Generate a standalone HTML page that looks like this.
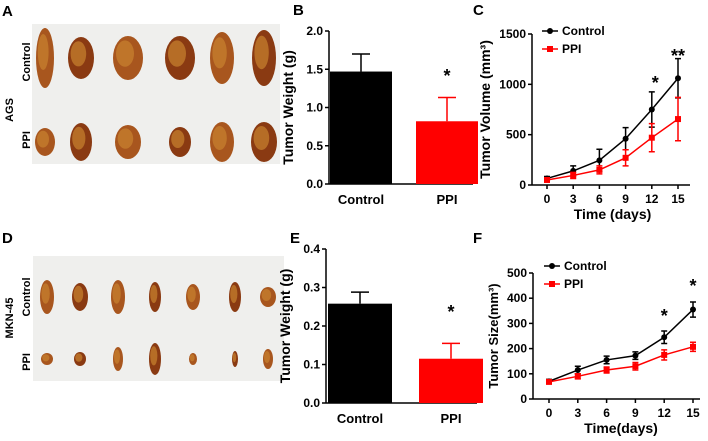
<!DOCTYPE html>
<html><head><meta charset="utf-8">
<style>
body{margin:0;background:#fff;}
svg{display:block;font-family:"Liberation Sans",Arial,sans-serif;font-weight:bold;}
</style></head>
<body>
<svg id="fig" width="708" height="441" viewBox="0 0 708 441">
  <g>
    <text x="2" y="16" font-size="15">A</text>
    <rect x="32" y="24" width="248" height="140" fill="#efefed"/>
    <text transform="translate(13,110) rotate(-90)" font-size="11" text-anchor="middle">AGS</text>
    <text transform="translate(30,62) rotate(-90)" font-size="11" text-anchor="middle">Control</text>
    <text transform="translate(30,140) rotate(-90)" font-size="11" text-anchor="middle">PPI</text>
    <g id="tumA"></g>
  </g>
  <g>
    <text x="2" y="243" font-size="15">D</text>
    <rect x="33" y="256" width="251" height="125" fill="#efefed"/>
    <text transform="translate(13,318) rotate(-90)" font-size="11" text-anchor="middle">MKN-45</text>
    <text transform="translate(30,297) rotate(-90)" font-size="11" text-anchor="middle">Control</text>
    <text transform="translate(30,362) rotate(-90)" font-size="11" text-anchor="middle">PPI</text>
    <g id="tumD"></g>
  </g>
  <g id="chartB"></g>
  <g id="chartE"></g>
  <g id="chartC"></g>
  <g id="chartF"></g>
</svg>
<script>
const barCategories = ["Control", "PPI"];
const bValues = [1.47, 0.82];
const bErrors = [0.23, 0.31];
const bTicks = ["0.0", "0.5", "1.0", "1.5", "2.0"];
const eValues = [0.258, 0.115];
const eErrors = [0.030, 0.040];
const eTicks = ["0.0", "0.1", "0.2", "0.3", "0.4"];
const days = [0, 3, 6, 9, 12, 15];
const cControl = [65, 140, 245, 460, 750, 1060];
const cControlErr = [20, 50, 110, 110, 175, 195];
const cPPI = [50, 95, 150, 270, 470, 655];
const cPPIErr = [15, 30, 40, 80, 140, 215];
const cTicks = ["0", "500", "1000", "1500"];
const fControl = [70, 115, 155, 172, 245, 355];
const fControlErr = [8, 15, 15, 15, 25, 30];
const fPPI = [68, 90, 115, 130, 175, 207];
const fPPIErr = [8, 10, 12, 15, 20, 18];
const fTicks = ["0", "100", "200", "300", "400", "500"];

const NS = "http://www.w3.org/2000/svg";
function mk(parent, tag, attrs, text) {
  const e = document.createElementNS(NS, tag);
  for (const k in attrs) e.setAttribute(k, attrs[k]);
  if (text !== undefined) e.textContent = text;
  parent.appendChild(e);
  return e;
}

function tumors(gid, cols, rows) {
  const g = document.getElementById(gid);
  rows.forEach((r) => {
    cols.forEach((cx, i) => {
      const w = r.w[i], h = r.h[i];
      const el = mk(g, "ellipse", {cx: cx, cy: r.y, rx: w / 2, ry: h / 2, fill: i % 2 ? "#8a3a12" : "#a8561e"});
      
      
      const hl = mk(g, "ellipse", {cx: cx - w * 0.1, cy: r.y - h * 0.1, rx: w * 0.3, ry: h * 0.3, fill: "#c9832f", opacity: 0.7});
      
      
    });
  });
}
tumors("tumA", [45, 81, 128, 180, 222, 264], [
  {y: 58, w: [18, 26, 30, 30, 24, 24], h: [60, 42, 44, 44, 52, 56]},
  {y: 142, w: [20, 22, 26, 22, 24, 26], h: [28, 38, 34, 30, 40, 40]}
]);
tumors("tumD", [47, 80, 118, 155, 193, 235, 268], [
  {y: 297, w: [14, 16, 14, 12, 14, 12, 16], h: [34, 28, 34, 30, 26, 30, 20]},
  {y: 359, w: [12, 12, 10, 12, 8, 6, 10], h: [12, 14, 24, 32, 12, 16, 20]}
]);

function barChart(gid, o) {
  const g = document.getElementById(gid);
  const y = v => o.y0 - (v / o.max) * (o.y0 - o.y1);
  mk(g, "text", {x: o.lx, y: o.ly, "font-size": 15}, o.letter);
  mk(g, "line", {x1: o.ax, y1: o.y1, x2: o.ax, y2: o.y0, stroke: "#000", "stroke-width": 1.5});
  mk(g, "line", {x1: o.ax, y1: o.y0, x2: o.axEnd, y2: o.y0, stroke: "#000", "stroke-width": 1.5});
  o.ticks.forEach((t, i) => {
    const v = o.max * i / (o.ticks.length - 1);
    const tk = mk(g, "line", {x1: o.ax - 4, y1: y(v), x2: o.ax, y2: y(v), stroke: "#000", "stroke-width": 1.5});
    
    const tl = mk(g, "text", {x: o.ax - 6, y: y(v) + 4, "font-size": 12, "text-anchor": "end"}, t);
    
  });
  const yt = mk(g, "text", {transform: `translate(${o.ax - 36},${(o.y0 + o.y1) / 2}) rotate(-90)`, "font-size": 14, "text-anchor": "middle"}, "Tumor Weight (g)");
  
  const colors = ["#000", "#ff0000"];
  barCategories.forEach((c, i) => {
    const x0 = o.bx[i], w = o.bw;
    const top = y(o.vals[i]), etop = y(o.vals[i] + o.errs[i]);
    const cx = x0 + w / 2;
    const el = mk(g, "line", {x1: cx, y1: top, x2: cx, y2: etop, stroke: colors[i], "stroke-width": 1.5});
    
    const ec = mk(g, "line", {x1: cx - 9, y1: etop, x2: cx + 9, y2: etop, stroke: colors[i], "stroke-width": 1.5});
    
    const b = mk(g, "rect", {x: x0, y: top, width: w, height: o.y0 - top, fill: colors[i]});
    
    const lb = mk(g, "text", {x: cx, y: o.y0 + 20, "font-size": 13, "text-anchor": "middle"}, c);
    
  });
  const st = mk(g, "text", {x: o.bx[1] + o.bw / 2, y: o.starY, "font-size": 18, "text-anchor": "middle"}, "*");
  
}
barChart("chartB", {letter: "B", lx: 293, ly: 15, ax: 329, axEnd: 473, y0: 184, y1: 31, max: 2.0, ticks: bTicks,
  vals: bValues, errs: bErrors, bx: [330, 416], bw: 62, starY: 82});
barChart("chartE", {letter: "E", lx: 290, ly: 243, ax: 326, axEnd: 477, y0: 403, y1: 249, max: 0.4, ticks: eTicks,
  vals: eValues, errs: eErrors, bx: [328, 419], bw: 64, starY: 318});

function lineChart(gid, o) {
  const g = document.getElementById(gid);
  const x = d => o.x0 + (d - days[0]) / (days[days.length - 1] - days[0]) * (o.x15 - o.x0);
  const y = v => o.y0 - v / o.max * (o.y0 - o.y1);
  mk(g, "text", {x: o.lx, y: o.ly, "font-size": 15}, o.letter);
  mk(g, "line", {x1: o.ax, y1: o.y1, x2: o.ax, y2: o.y0, stroke: "#000", "stroke-width": 1.5});
  mk(g, "line", {x1: o.ax, y1: o.y0, x2: o.axEnd, y2: o.y0, stroke: "#000", "stroke-width": 1.5});
  o.ticks.forEach((t, i) => {
    const v = o.max * i / (o.ticks.length - 1);
    mk(g, "line", {x1: o.ax - 4, y1: y(v), x2: o.ax, y2: y(v), stroke: "#000", "stroke-width": 1.5});
    const tl = mk(g, "text", {x: o.ax - 6, y: y(v) + 4, "font-size": o.tfs, "text-anchor": "end"}, t);
    
  });
  days.forEach(d => {
    mk(g, "line", {x1: x(d), y1: o.y0, x2: x(d), y2: o.y0 + 4, stroke: "#000", "stroke-width": 1.5});
    const tl = mk(g, "text", {x: x(d), y: o.y0 + 18, "font-size": o.tfs, "text-anchor": "middle"}, String(d));
    
  });
  const yt = mk(g, "text", {transform: `translate(${o.ytx},${(o.y0 + o.y1) / 2}) rotate(-90)`, "font-size": o.yfs, "text-anchor": "middle"}, o.ytitle);
  
  const xt = mk(g, "text", {x: (o.x0 + o.x15) / 2, y: o.y0 + 34, "font-size": 14, "text-anchor": "middle"}, o.xtitle);
  
  const series = [
    {name: "control", vals: o.ctrl, errs: o.ctrlErr, color: "#000"},
    {name: "ppi", vals: o.ppi, errs: o.ppiErr, color: "#ff0000"}
  ];
  series.forEach(s => {
    const pts = days.map((d, i) => x(d) + "," + y(s.vals[i])).join(" ");
    const pl = mk(g, "polyline", {points: pts, fill: "none", stroke: s.color, "stroke-width": 1.5});
    
    days.forEach((d, i) => {
      const cx = x(d), hi = y(s.vals[i] + s.errs[i]), lo = y(s.vals[i] - s.errs[i]);
      const eb = mk(g, "path", {d: `M${cx},${hi}V${lo}M${cx - 3},${hi}H${cx + 3}M${cx - 3},${lo}H${cx + 3}`, stroke: s.color, "stroke-width": 1.5, fill: "none"});
      
      const pt = s.name === "control"
        ? mk(g, "circle", {cx: cx, cy: y(s.vals[i]), r: 3, fill: s.color})
        : mk(g, "rect", {x: cx - 3, y: y(s.vals[i]) - 3, width: 6, height: 6, fill: s.color});
      
    });
  });
  const lg = mk(g, "g", {});
  
  [["Control", "#000", "circle"], ["PPI", "#ff0000", "rect"]].forEach((e, i) => {
    const ly = o.legY + i * 18;
    const ln = mk(lg, "line", {x1: o.legX, y1: ly, x2: o.legX + 16, y2: ly, stroke: e[1], "stroke-width": 1.5});
    
    const mkr = e[2] === "circle" ? mk(lg, "circle", {cx: o.legX + 8, cy: ly, r: 3, fill: e[1]}) : mk(lg, "rect", {x: o.legX + 5, y: ly - 3, width: 6, height: 6, fill: e[1]});
    
    const tx = mk(lg, "text", {x: o.legX + 20, y: ly + 4, "font-size": 12}, e[0]);
    
  });
  o.stars.forEach(s => {
    const st = mk(g, "text", {x: x(s[0]), y: s[1], "font-size": 18, "text-anchor": "middle"}, s[2]);
    
  });
}
lineChart("chartC", {letter: "C", lx: 473, ly: 15, ax: 532, axEnd: 690, x0: 547, x15: 678, y0: 185, y1: 34, max: 1500,
  ticks: cTicks, tfs: 12, ytx: 490, yfs: 14, ytitle: "Tumor Volume (mm³)", xtitle: "Time (days)",
  ctrl: cControl, ctrlErr: cControlErr, ppi: cPPI, ppiErr: cPPIErr, legX: 542, legY: 31,
  stars: [[12.4, 89, "*"], [15, 62, "**"]]});
lineChart("chartF", {letter: "F", lx: 473, ly: 243, ax: 533, axEnd: 700, x0: 549, x15: 693, y0: 399, y1: 273, max: 500,
  ticks: fTicks, tfs: 12, ytx: 498, yfs: 13, ytitle: "Tumor Size(mm³)", xtitle: "Time(days)",
  ctrl: fControl, ctrlErr: fControlErr, ppi: fPPI, ppiErr: fPPIErr, legX: 544, legY: 266,
  stars: [[12, 322, "*"], [15, 292, "*"]]});
</script>
</body></html>
